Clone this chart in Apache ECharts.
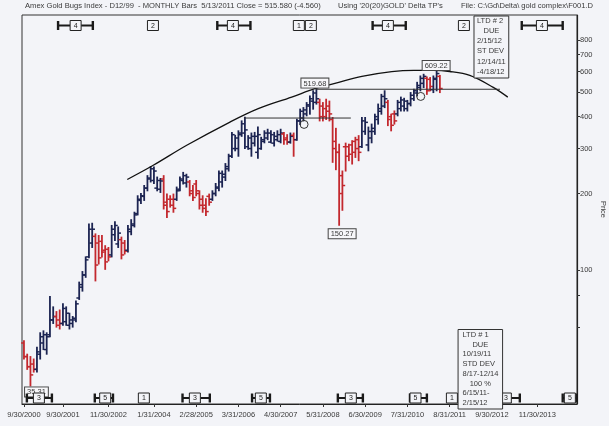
<!DOCTYPE html>
<html><head><meta charset="utf-8">
<script src="https://cdn.jsdelivr.net/npm/echarts@6.0.0/dist/echarts.min.js"></script>
<style>html,body{margin:0;padding:0;background:#f3f4f8;}#c{width:609px;height:426px;}</style>
</head><body><div id="c"></div>
<script>
// ---- DATA (monthly bars, index 0 = Sep 2000) ----
const opens  = [52,46,42,43,41,47,52,49,56,64,66,64,62,63,61,62,64,78,86,96,113,128,136,128,130,120,121,115,138,127,132,128,120,142,150,167,188,195,210,228,225,210,208,228,185,190,190,190,208,225,220,222,205,218,200,190,180,195,190,200,210,222,232,250,280,300,300,340,345,305,300,315,290,300,320,330,318,315,325,320,342,330,318,338,325,385,395,410,440,460,455,455,440,430,440,390,320,290,235,305,305,310,320,325,305,350,310,330,350,390,420,440,455,400,410,410,430,440,430,450,470,495,520,540,565,560,510,560,575];
const highs  = [53,47,46,45,50,57,58,57,79,72,69,70,74,72,68,66,76,90,99,113,152,153,139,137,137,125,123,150,155,148,135,131,150,158,169,196,200,215,235,255,254,232,229,235,199,196,199,212,232,242,238,225,215,225,205,196,191,199,205,219,245,245,262,285,347,338,352,385,398,337,345,347,364,332,352,357,352,347,352,357,347,340,345,345,391,428,434,454,482,505,519.68,468,454,468,460,397,360,312,245,315,312,322,332,337,397,397,364,374,409,448,489,505,463,409,421,463,477,472,463,497,512,545,577,586,572,569,577,609.22,580];
const lows   = [45,41,35.31,40,40,45,49,47,55,62,60,59,61,61,59,60,63,77,83,94,112,123,91,106,113,101,109,113,131,123,111,116,118,138,148,165,183,188,205,222,219,205,202,174,161,177,169,188,205,218,212,196,188,196,174,169,164,180,188,196,205,212,225,245,277,294,280,335,300,298,280,307,275,298,316,325,316,307,321,316,312,312,315,280,323,373,385,403,409,428,448,385,385,390,385,265,248,150.27,172,245,269,261,277,269,303,341,294,316,341,374,409,434,369,352,374,403,421,421,421,441,463,482,505,520,489,505,497,505,497];
const closes = [46,42,39,41,48,55,56,55,64,66,61,62,71,68,64,65,74,88,96,110,145,145,105,112,118,108,113,145,150,140,115,119,145,152,165,190,196,210,230,250,245,225,224,180,170,180,175,205,228,235,232,200,193,205,180,175,170,185,200,212,240,238,255,280,340,330,345,375,355,330,335,335,340,325,345,345,340,335,340,345,325,318,335,325,385,420,425,445,470,495,470,400,400,420,410,300,290,200,215,280,285,290,300,290,385,380,350,360,400,430,480,470,390,370,385,455,465,460,450,485,505,530,565,575,505,525,565,590,515.58];

// x axis (month index) tick positions and labels
const xTickMonths = [0,12,26,40,53,66,79,92,105,118,131,144,158];
const xTickLabels = ['9/30/2000','9/30/2001','11/30/2002','1/31/2004','2/28/2005','3/31/2006','4/30/2007','5/31/2008','6/30/2009','7/31/2010','8/31/2011','9/30/2012','11/30/2013'];
// y axis (price, log scale)
const yTickLabels = [100,200,300,400,500,600,700,800];
const yMinorTicks = [60,80];

// annotations in data coordinates [month, price]
const arcPoints = [[31.8,227],[39.8,258],[50.1,309],[63.4,381],[72.1,430],[82.4,477],[89.5,515],[95.7,540],[104,575],[113.2,600],[120,607],[126,607],[131,601],[137.2,580],[144.3,522],[148.9,477]];
const hLines = [[67.7,100.6,395],[89.8,146.5,512]];
const circlePts = [[86.2,373],[122.1,480]];
const priceLabels = [[90,519.68,'519.68'],[127,609.22,'609.22'],[97,150.27,'150.27'],[2,35.31,'35.31']];
// cycle markers: [month, label, leftEnd, rightEnd]
const topMarkers = [[15.9,'4',10.5,21.2],[39.7,'2',null,null],[64.3,'4',59.5,69.7],[84.6,'1',null,null],[88.3,'2',null,null],[112,'4',107.3,117.5],[135.4,'2',null,null],[159.4,'4',153.2,165.8]];
const bottomMarkers = [[4.6,'3',0.9,8.6],[25,'5',21.8,27.4],[36.9,'1',null,null],[52.6,'3',48.8,57.2],[72.9,'5',70.2,75.7],[100.6,'3',96.6,104.3],[120.5,'5',118.8,124],[131.7,'1',null,null],[148.3,'3',null,152.6],[168,'5',165.8,170.1]];
const ltdNotes = [
  {from:138.5, to:149.2, lines:['LTD # 2','DUE','2/15/12','ST DEV','12/14/11','-4/18/12']},
  {from:133.6, to:147.3, lines:['LTD # 1','DUE','10/19/11','STD DEV','8/17-12/14','100 %','6/15/11-','2/15/12']}
];

// ---- STYLE / LAYOUT ----
const BG = '#f3f4f8', UP = '#1c2452', DOWN = '#c3282e', INK = '#3a3a3a';
const FONT = '"Liberation Sans", Arial, sans-serif';
const FS = 7.5;
const priceLabelLayout = [{dx:-1.5,dy:0,above:true},{dx:-0.5,dy:0,above:true},{dx:3,dy:4,above:false},{dx:6,dy:1.5,above:false}];
const ltdLayout = [{top:16,bottom:78,first:20.8,step:10.2,pad:3},{top:329.5,bottom:409,first:335,step:9.7,pad:4.4}];
const centeredLines = ['DUE','100 %'];

const L = v => Math.log10(v);
const chart = echarts.init(document.getElementById('c'), null, {renderer:'canvas'});

function ln(x1,y1,x2,y2,w,c){return {type:'line',shape:{x1,y1,x2,y2},style:{stroke:c||'#1a1a1a',lineWidth:w}};}

function ohlcItem(params, api){
  const m = api.value(0);
  const pH = api.coord([m, api.value(2)]);
  const pL = api.coord([m, api.value(3)]);
  const yO = api.coord([m, api.value(1)])[1];
  const yC = api.coord([m, api.value(4)])[1];
  const col = api.value(4) >= api.value(1) ? UP : DOWN;
  const x = pH[0];
  return {type:'group', children:[
    ln(x,pH[1]-0.5,x,pL[1]+0.5,1.8,col),
    ln(x-2.8,yO,x,yO,1.5,col),
    ln(x,yC,x+2.8,yC,1.5,col)
  ]};
}

function markerRenderer(list,row){
  return function(params, api){
    const mk = list[params.dataIndex];
    const cs = params.coordSys;
    const cy = row==='top' ? cs.y+10.5 : cs.y+cs.height-6;
    const cx = api.coord([mk[0],2])[0];
    const hw = 5.5, hh = 5;
    const ch = [];
    if(mk[2]!=null){const xl=api.coord([mk[2],2])[0]; ch.push(ln(xl,cy,cx-hw,cy,2)); ch.push(ln(xl,cy-4.5,xl,cy+4.5,2.4));}
    if(mk[3]!=null){const xr=api.coord([mk[3],2])[0]; ch.push(ln(cx+hw,cy,xr,cy,2)); ch.push(ln(xr,cy-4.5,xr,cy+4.5,2.4));}
    ch.push({type:'rect',shape:{x:cx-hw,y:cy-hh,width:2*hw,height:2*hh},style:{fill:BG,stroke:'#222',lineWidth:1}});
    ch.push({type:'text',x:cx,y:cy+0.5,style:{text:mk[1],font:'7px '+FONT,fill:'#222',align:'center',verticalAlign:'middle'}});
    return {type:'group',children:ch};
  };
}

function ltdRenderer(params, api){
  const n = ltdNotes[params.dataIndex], lay = ltdLayout[params.dataIndex];
  const x0 = api.coord([n.from,2])[0], x1 = api.coord([n.to,2])[0];
  const ch = [{type:'rect',shape:{x:x0,y:lay.top,width:x1-x0,height:lay.bottom-lay.top},style:{fill:BG,stroke:'#333',lineWidth:1}}];
  n.lines.forEach((t,i)=>{
    const c = centeredLines.indexOf(t)>=0;
    ch.push({type:'text',x:c?(x0+x1)/2:x0+lay.pad,y:lay.first+i*lay.step,style:{text:t,font:FS+'px '+FONT,fill:INK,align:c?'center':'left',verticalAlign:'middle'}});
  });
  return {type:'group',children:ch};
}

function priceLabelRenderer(params, api){
  const p = priceLabels[params.dataIndex], lay = priceLabelLayout[params.dataIndex];
  const pt = api.coord([p[0], L(p[1])]);
  return {type:'text',x:pt[0]+lay.dx,y:pt[1]+(lay.above?-lay.dy:lay.dy),style:{text:p[2],font:FS+'px '+FONT,fill:INK,align:'center',verticalAlign:lay.above?'bottom':'top',backgroundColor:'#f7f7fa',borderColor:'#444',borderWidth:1,padding:[1,2,0,2]}};
}

function circleRenderer(params, api){
  const c = circlePts[params.dataIndex];
  const pt = api.coord([c[0], L(c[1])]);
  return {type:'circle',shape:{cx:pt[0],cy:pt[1],r:4},style:{fill:'none',stroke:'#333',lineWidth:1}};
}

const series = [
  {type:'custom',name:'bars',renderItem:ohlcItem,data:opens.map((o,i)=>[i,L(o),L(highs[i]),L(lows[i]),L(closes[i])]),encode:{x:0,y:[1,2,3,4]},clip:false,z:3},
  {type:'line',data:arcPoints.map(p=>[p[0],L(p[1])]),smooth:0.35,showSymbol:false,symbol:'none',lineStyle:{color:'#111',width:1.3},z:4,silent:true}
];
hLines.forEach(h=>series.push({type:'line',data:[[h[0],L(h[2])],[h[1],L(h[2])]],showSymbol:false,symbol:'none',lineStyle:{color:'#333',width:1},z:4,silent:true}));
series.push({type:'custom',renderItem:circleRenderer,data:circlePts.map(c=>[c[0],L(c[1])]),clip:false,z:5});
series.push({type:'custom',renderItem:priceLabelRenderer,data:priceLabels.map(p=>[p[0],L(p[1])]),clip:false,z:6});
series.push({type:'custom',renderItem:markerRenderer(topMarkers,'top'),data:topMarkers.map(m=>[m[0],2]),clip:false,z:6});
series.push({type:'custom',renderItem:markerRenderer(bottomMarkers,'bottom'),data:bottomMarkers.map(m=>[m[0],2]),clip:false,z:6});
series.push({type:'custom',renderItem:ltdRenderer,data:ltdNotes.map(n=>[n.from,2]),clip:false,z:7});

const ts = {fontSize:7.6,fontWeight:'normal',color:INK,fontFamily:FONT};
chart.setOption({
  backgroundColor:BG,
  animation:false,
  title:[
    {text:'Amex Gold Bugs Index - D12/99  - MONTHLY Bars  5/13/2011 Close = 515.580 (-4.560)',left:25,top:2,padding:0,textStyle:ts},
    {text:"Using '20(20)GOLD' Delta TP's",left:338,top:2,padding:0,textStyle:ts},
    {text:'File: C:\\Gd\\Delta\\ gold complex\\F001.D',left:461,top:2,padding:0,textStyle:ts}
  ],
  grid:{left:22,right:32,top:15,bottom:22,show:true,borderColor:'#333',borderWidth:1,backgroundColor:'transparent',outerBoundsMode:'none',containLabel:false},
  xAxis:{type:'value',min:-0.6,max:170.2,
    axisLine:{show:true,onZero:false,lineStyle:{color:'#222',width:1}},
    axisTick:{show:true,length:3,customValues:xTickMonths,lineStyle:{color:'#333'}},
    axisLabel:{customValues:xTickMonths,formatter:v=>xTickLabels[xTickMonths.indexOf(Math.round(v))]||'',fontSize:FS,color:INK,fontFamily:FONT,margin:7},
    splitLine:{show:false}},
  yAxis:{type:'value',position:'right',min:L(30),max:3,
    axisLine:{show:true,onZero:false,lineStyle:{color:'#222',width:1.2}},
    axisTick:{show:true,length:3,customValues:yTickLabels.concat(yMinorTicks).map(L),lineStyle:{color:'#333'}},
    axisLabel:{customValues:yTickLabels.map(L),formatter:v=>String(Math.round(Math.pow(10,v))),fontSize:FS,color:INK,fontFamily:FONT,margin:3},
    splitLine:{show:false},
    name:'Price',nameLocation:'middle',nameRotate:-90,nameGap:22,nameMoveOverlap:false,nameTextStyle:{fontSize:FS,color:INK,fontFamily:FONT}},
  series
});
</script></body></html>
